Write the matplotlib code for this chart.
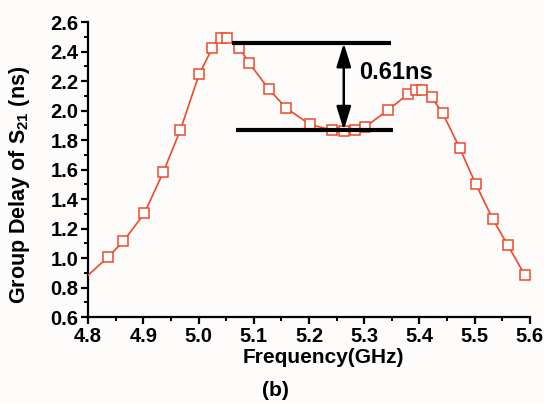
import matplotlib
matplotlib.use("Agg")
import matplotlib.pyplot as plt
from matplotlib.ticker import MultipleLocator

plt.rcParams['font.family'] = ['Liberation Sans', 'DejaVu Sans']
plt.rcParams['font.weight'] = 'bold'
plt.rcParams['mathtext.fontset'] = 'custom'
plt.rcParams['mathtext.it'] = 'Liberation Sans:italic:bold'
plt.rcParams['mathtext.rm'] = 'Liberation Sans:bold'

# group delay (GHz, ns)
freq = [4.800, 4.836, 4.864, 4.902, 4.936, 4.967, 5.001, 5.025, 5.041, 5.052,
        5.074, 5.092, 5.127, 5.159, 5.201, 5.241, 5.263, 5.283, 5.301, 5.343,
        5.379, 5.393, 5.404, 5.422, 5.442, 5.473, 5.502, 5.533, 5.560, 5.591]
delay = [0.885, 1.007, 1.115, 1.305, 1.583, 1.868, 2.247, 2.424, 2.490, 2.490,
         2.424, 2.322, 2.146, 2.017, 1.908, 1.868, 1.861, 1.868, 1.888, 2.003,
         2.112, 2.139, 2.139, 2.092, 1.983, 1.746, 1.502, 1.264, 1.088, 0.885]

# annotation: max / min reference lines and the difference
top_level, top_span = 2.458, (5.061, 5.348)
bot_level, bot_span = 1.868, (5.067, 5.352)
arrow_x = 5.263
diff_label = "0.61ns"

red = "#f0482a"

fig = plt.figure(figsize=(5.44, 4.03), dpi=100, facecolor="#fdfcfb")
ax = fig.add_axes([0.162, 0.213, 0.812, 0.732])
ax.set_facecolor("#fdfcfb")

ax.plot(freq, delay, color=red, lw=1.2, marker="s", ms=6.5, mfc="white",
        mec=red, mew=1.1, markevery=slice(1, None), zorder=3)

ax.hlines(top_level, *top_span, color="black", lw=3, zorder=4)
ax.hlines(bot_level, *bot_span, color="black", lw=3, zorder=4)
ax.annotate("", xy=(arrow_x, bot_level), xytext=(arrow_x, top_level),
            arrowprops=dict(arrowstyle="<|-|>,head_length=0.65,head_width=0.2",
                            color="black", lw=1.8, mutation_scale=22,
                            shrinkA=0, shrinkB=0), zorder=5)
ax.text(5.29, 2.26, diff_label, fontsize=17, fontweight="bold", va="center")

ax.set_xlim(4.8, 5.6)
ax.set_ylim(0.6, 2.6)
ax.xaxis.set_major_locator(MultipleLocator(0.1))
ax.xaxis.set_minor_locator(MultipleLocator(0.05))
ax.yaxis.set_major_locator(MultipleLocator(0.2))
ax.yaxis.set_minor_locator(MultipleLocator(0.1))
ax.xaxis.set_major_formatter(plt.FormatStrFormatter("%.1f"))
ax.yaxis.set_major_formatter(plt.FormatStrFormatter("%.1f"))

for side in ("top", "right"):
    ax.spines[side].set_visible(False)
for side in ("left", "bottom"):
    ax.spines[side].set_linewidth(1.6)

ax.tick_params(which="major", direction="out", length=5, width=1.6,
               labelsize=14.5, pad=2)
ax.tick_params(which="minor", direction="out", length=3, width=1.4)

ax.set_xlabel("Frequency(GHz)", fontsize=15, fontweight="bold")
ax.xaxis.set_label_coords(0.532, -0.105)
ax.set_ylabel(r"Group Delay of $\mathrm{S}_{21}$ (ns)", fontsize=15.5,
              fontweight="bold")
ax.yaxis.set_label_coords(-0.128, 0.45)
fig.text(0.507, 0.032, "(b)", fontsize=15, fontweight="bold", ha="center",
         va="center")

fig.savefig("out.png", dpi=100, facecolor=fig.get_facecolor())
